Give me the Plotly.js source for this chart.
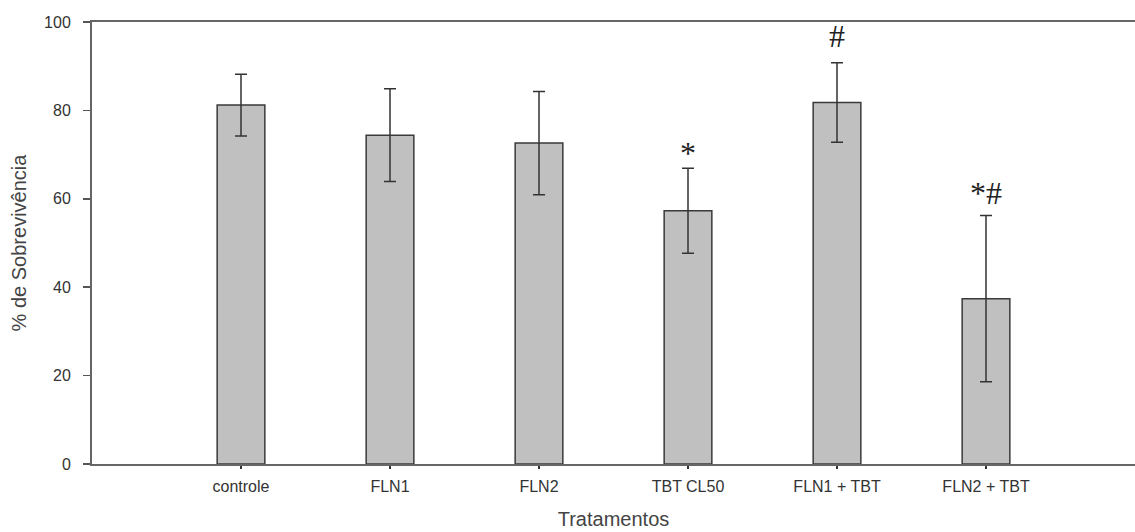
<!DOCTYPE html>
<html>
<head>
<meta charset="utf-8">
<script src="https://cdn.plot.ly/plotly-3.0.1.min.js"></script>
<style>html,body{margin:0;padding:0;background:#fff;}#chart{width:1135px;height:532px;}</style>
</head>
<body>
<div id="chart"></div>
<script>
const categories = ['controle', 'FLN1', 'FLN2', 'TBT CL50', 'FLN1 + TBT', 'FLN2 + TBT'];
const survival = [81.2, 74.4, 72.6, 57.3, 81.8, 37.4];
const errors = [7.0, 10.5, 11.7, 9.6, 9.0, 18.8];
const sigLabels = ['', '', '', '*', '#', '*#'];
const yTicks = [0, 20, 40, 60, 80, 100];

const xIdx = categories.map((c, i) => i);

// vertical pixel nudges for the serif glyphs (styling only)
const glyphShift = { '*': -7, '#': 5, '*#': 1 };

const trace = {
  type: 'bar',
  x: xIdx,
  y: survival,
  width: 0.32,
  marker: { color: '#c0c0c0', line: { color: '#3a3a3a', width: 1.5 } },
  error_y: { type: 'data', array: errors, visible: true, color: '#333333', thickness: 1.5, width: 6 },
  hoverinfo: 'none'
};

const annotations = sigLabels.map((t, i) => ({
  x: i, y: survival[i] + errors[i], xref: 'x', yref: 'y',
  text: t, showarrow: false, xanchor: 'center', yanchor: 'bottom',
  yshift: 2 + (glyphShift[t] || 0),
  font: { family: 'Liberation Serif, Times New Roman, serif', size: 32, color: '#222' }
})).filter(a => a.text !== '');

const layout = {
  width: 1135, height: 532,
  margin: { l: 92, r: 0, t: 22, b: 68 },
  paper_bgcolor: '#ffffff', plot_bgcolor: '#ffffff',
  showlegend: false,
  font: { family: 'Liberation Sans, Arial, sans-serif', color: '#333' },
  xaxis: {
    range: [-1, 6],
    tickmode: 'array', tickvals: xIdx, ticktext: categories,
    ticks: 'outside', ticklen: 3, tickwidth: 2, tickcolor: '#333',
    ticklabelstandoff: 4,
    showline: true, linecolor: '#666', linewidth: 2, mirror: true,
    showgrid: false, zeroline: false,
    tickfont: { size: 16, color: '#333' },
    title: { text: 'Tratamentos', font: { size: 20, color: '#444' }, standoff: 18 }
  },
  yaxis: {
    range: [0, 100],
    tickmode: 'array', tickvals: yTicks,
    ticks: 'outside', ticklen: 7, tickwidth: 1.5, tickcolor: '#555',
    ticklabelstandoff: 9,
    showline: true, linecolor: '#666', linewidth: 2,
    showgrid: false, zeroline: false,
    tickfont: { size: 16, color: '#333' },
    title: { text: '% de Sobrevivência', font: { size: 20, color: '#444' }, standoff: 12 }
  },
  annotations: annotations
};

Plotly.newPlot('chart', [trace], layout, { displayModeBar: false, staticPlot: true });
</script>
</body>
</html>
